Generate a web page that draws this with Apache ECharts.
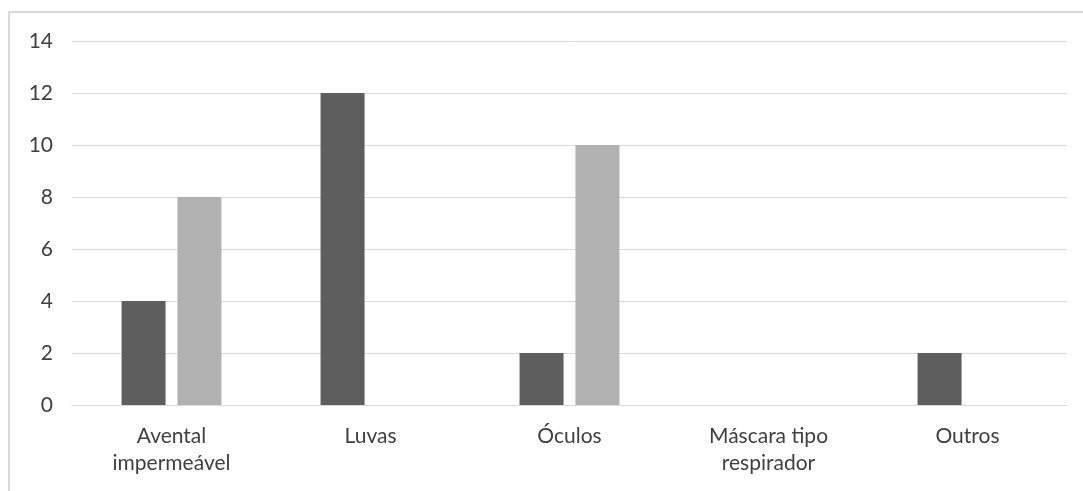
<!DOCTYPE html>
<html>
<head>
<meta charset="utf-8">
<script src="https://cdn.jsdelivr.net/npm/echarts@6/dist/echarts.min.js"></script>
<style>
  html, body { margin: 0; padding: 0; background: #fff; overflow: hidden; }
  #frame { position: absolute; left: 8px; top: 11px; width: 1200px; height: 600px;
           border: 2px solid #d9d9d9; box-sizing: border-box; }
  #chart { position: absolute; left: 0; top: 0; width: 1083px; height: 491px; }
</style>
</head>
<body>
<div id="frame"></div>
<div id="chart"></div>
<script>
// Equipment categories and the two counts per item
const categories = ['Avental\nimpermeável', 'Luvas', 'Óculos', 'Máscara tipo\nrespirador', 'Outros'];
const seriesA = [4, 12, 2, 0, 2];
const seriesB = [8, 0, 10, 0, 0];
const yTicks = { min: 0, max: 14, interval: 2 };

const chart = echarts.init(document.getElementById('chart'), null, { renderer: 'canvas' });
const font = 'Lato, "Open Sans", "Liberation Sans", sans-serif';

chart.setOption({
  animation: false,
  grid: { left: 72, right: 16, top: 41, bottom: 86, containLabel: false },
  xAxis: {
    type: 'category',
    data: categories,
    axisLine: { show: true, lineStyle: { color: '#d9d9d9', width: 1 } },
    axisTick: { show: false },
    axisLabel: { color: '#404040', fontSize: 21, fontFamily: font, margin: 18, lineHeight: 27 }
  },
  yAxis: {
    type: 'value',
    min: yTicks.min, max: yTicks.max, interval: yTicks.interval,
    axisLine: { show: false },
    axisTick: { show: false },
    splitLine: { lineStyle: { color: '#d9d9d9', width: 1 } },
    axisLabel: { color: '#404040', fontSize: 21, fontFamily: font, margin: 19 }
  },
  series: [
    { type: 'bar', data: seriesA, barWidth: 44, barGap: '27%', itemStyle: { color: '#5e5e5e' } },
    { type: 'bar', data: seriesB, barWidth: 44, itemStyle: { color: '#b1b1b1' } }
  ]
});
</script>
</body>
</html>
